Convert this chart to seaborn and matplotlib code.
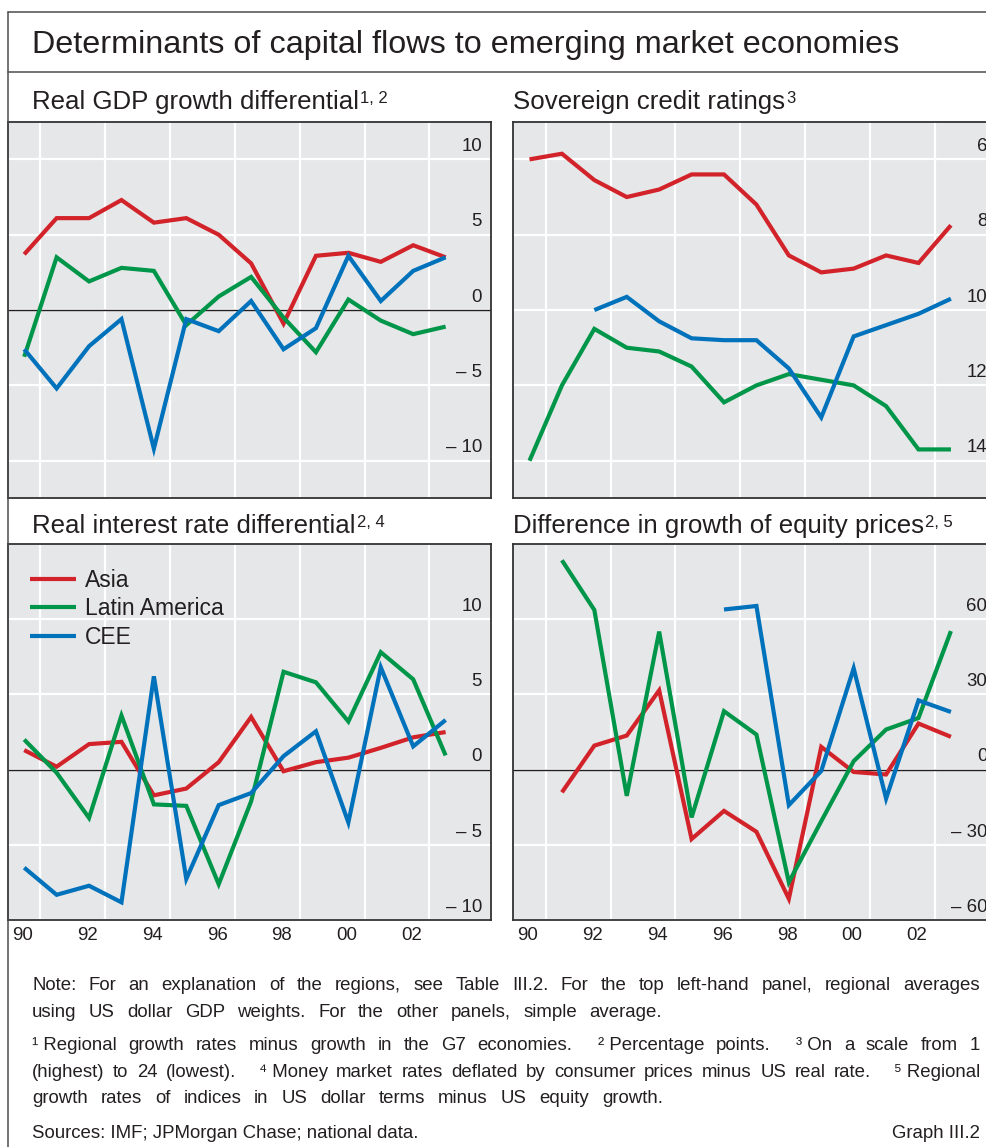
import matplotlib
matplotlib.use('Agg')
import matplotlib.pyplot as plt
import matplotlib.transforms as mtransforms
from matplotlib.lines import Line2D
import pandas as pd
import seaborn as sns

## Data (one value per year, None = no data)
years = list(range(1990, 2004))
regions = ['Asia', 'Latin America', 'CEE']

gdp_asia = [3.7, 6.1, 6.1, 7.3, 5.8, 6.1, 5.0, 3.1, -0.9, 3.6, 3.8, 3.2, 4.3, 3.5]
gdp_latam = [-3.1, 3.5, 1.9, 2.8, 2.6, -1.0, 0.9, 2.2, -0.5, -2.8, 0.7, -0.7, -1.6, -1.1]
gdp_cee = [-2.6, -5.2, -2.4, -0.6, -9.2, -0.6, -1.4, 0.6, -2.6, -1.2, 3.6, 0.6, 2.6, 3.5]

rat_asia = [6.0, 5.85, 6.55, 7.0, 6.8, 6.4, 6.4, 7.2, 8.55, 9.0, 8.9, 8.55, 8.75, 7.75]
rat_latam = [14.0, 12.0, 10.5, 11.0, 11.1, 11.5, 12.45, 12.0, 11.7, 11.85, 12.0, 12.55, 13.7, 13.7]
rat_cee = [None, None, 10.0, 9.65, 10.3, 10.75, 10.8, 10.8, 11.55, 12.85, 10.7, 10.4, 10.1, 9.7]

int_asia = [1.3, 0.2, 1.7, 1.85, -1.7, -1.25, 0.5, 3.5, -0.1, 0.5, 0.8, 1.45, 2.15, 2.5]
int_latam = [2.0, -0.2, -3.2, 3.6, -2.3, -2.4, -7.6, -2.1, 6.5, 5.8, 3.2, 7.8, 6.0, 0.95]
int_cee = [-6.5, -8.3, -7.7, -8.8, 6.2, -7.25, -2.35, -1.55, 0.9, 2.55, -3.5, 6.8, 1.55, 3.3]

eq_asia = [None, -9.0, 9.6, 13.6, 31.6, -27.6, -16.4, -24.7, -51.4, 9.1, -0.9, -1.9, 18.4, 13.1]
eq_latam = [None, 83.4, 63.6, -10.4, 55.0, -19.0, 23.3, 14.0, -44.8, -20.5, 3.4, 16.0, 20.6, 55.2]
eq_cee = [None, None, None, None, None, None, 63.8, 65.2, -14.1, -0.5, 40.4, -11.5, 27.6, 23.0]

year_labels = ['90', '92', '94', '96', '98', '00', '02']

gdp_ticks = [10, 5, 0, -5, -10]
rat_ticks = [6, 8, 10, 12, 14]
int_ticks = [10, 5, 0, -5, -10]
eq_ticks = [60, 30, 0, -30, -60]

colours = {'Asia': '#d2232a', 'Latin America': '#00964a', 'CEE': '#0072bc'}
text_col = '#231f20'

## Style
sns.set_style('darkgrid', {'axes.facecolor': '#e6e7e8', 'grid.color': 'white'})
plt.rcParams['font.family'] = ['Liberation Sans', 'DejaVu Sans']
plt.rcParams['text.color'] = text_col

W, H = 986, 1147
fig = plt.figure(figsize=(W / 100, H / 100), dpi=100)
fig.patch.set_facecolor('white')


def px_axes(x0, y0, x1, y1):
    return fig.add_axes([x0 / W, 1 - y1 / H, (x1 - x0) / W, (y1 - y0) / H])


def long_frame(asia, latam, cee):
    df = pd.DataFrame({'year': years, 'Asia': asia, 'Latin America': latam, 'CEE': cee})
    df['x'] = df['year'] + 0.5  # values sit in the middle of each year
    df = df.melt(id_vars=['year', 'x'], var_name='region', value_name='value')
    return df.dropna()


def fmt(v):
    return ('\u2013 ' + str(abs(v))) if v < 0 else str(v)


def draw_panel(ax, df, ylim, ticks, zero_line, show_years, legend=False):
    sns.lineplot(data=df, x='x', y='value', hue='region', hue_order=regions,
                 palette=colours, lw=3.0, estimator=None, ax=ax, legend=legend,
                 solid_joinstyle='miter', solid_capstyle='butt', zorder=3)
    ax.set(xlabel='', ylabel='')
    ax.set_xlim(1990, 2004.9)
    ax.set_ylim(*ylim)

    # horizontal grid from y ticks, labels drawn inside the panel
    ax.set_yticks(ticks)
    ax.tick_params(axis='y', length=0, labelleft=False, labelright=False)
    ax.grid(axis='y', color='white', lw=1.6)
    ax.grid(axis='x', which='both', visible=False)
    ax.set_axisbelow(True)
    trans = mtransforms.blended_transform_factory(ax.transAxes, ax.transData) + \
        mtransforms.ScaledTranslation(-9 / 100, 8.5 / 100, fig.dpi_scale_trans)
    for t in ticks:
        ax.text(1, t, fmt(t), transform=trans, ha='right', va='baseline',
                fontsize=13.4, color=text_col)

    # vertical grid every second year
    for y in years[1::2]:
        ax.axvline(y, color='white', lw=1.6, zorder=0.8)
    if zero_line:
        ax.axhline(0, color='#231f20', lw=1.0, zorder=1.5)

    # year boundary ticks, year labels centred in the year
    ax.set_xticks(years + [years[-1] + 1])
    ax.tick_params(axis='x', which='major', direction='in', length=15.8, width=1.1,
                   color='#231f20', labelbottom=False)
    ax.set_xticks([years[0] + 2 * i + 0.45 for i in range(len(year_labels))], minor=True)
    ax.set_xticklabels(year_labels, minor=True)
    ax.tick_params(axis='x', which='minor', length=0, pad=5, labelsize=13.4,
                   labelcolor=text_col, labelbottom=show_years)

    for sp in ax.spines.values():
        sp.set_visible(True)
        sp.set_color('#333333')
        sp.set_linewidth(1.3)


ax_gdp = px_axes(8, 121.7, 491, 498.4)
ax_rat = px_axes(513.3, 121.7, 996.3, 498.4)
ax_int = px_axes(8, 543.7, 491, 920.4)
ax_eq = px_axes(513.3, 543.7, 996.3, 920.4)

draw_panel(ax_gdp, long_frame(gdp_asia, gdp_latam, gdp_cee), (-12.5, 12.5), gdp_ticks, True, False)
draw_panel(ax_rat, long_frame(rat_asia, rat_latam, rat_cee), (15, 5), rat_ticks, False, False)
draw_panel(ax_int, long_frame(int_asia, int_latam, int_cee), (-10, 15), int_ticks, True, True, legend=True)
draw_panel(ax_eq, long_frame(eq_asia, eq_latam, eq_cee), (-60, 90), eq_ticks, True, True)

handles, labels = ax_int.get_legend_handles_labels()
leg = ax_int.legend(handles, labels, loc='upper left', bbox_to_anchor=(0.045, 0.934),
                    frameon=False, fontsize=16.5, handlelength=2.0, handletextpad=0.4,
                    labelspacing=0.25, borderaxespad=0, borderpad=0)
for h in leg.get_lines():
    h.set_linewidth(3.0)

## Frame and titles
fig.add_artist(Line2D([7.7 / W, 7.7 / W], [0, 1 - 12.3 / H], color='#4d4d4f', lw=1.1))
fig.add_artist(Line2D([7.7 / W, 1], [1 - 12.3 / H, 1 - 12.3 / H], color='#4d4d4f', lw=1.1))
fig.add_artist(Line2D([7.7 / W, 1], [1 - 72.3 / H, 1 - 72.3 / H], color='#4d4d4f', lw=1.1))

fig.text(31.5 / W, 1 - 53.5 / H, 'Determinants of capital flows to emerging market economies',
         fontsize=23.3, va='baseline', ha='left')

panel_titles = [
    (32, 109.5, 'Real GDP growth differential', '1, 2', ax_gdp),
    (513, 109.5, 'Sovereign credit ratings', '3', ax_rat),
    (32, 533.2, 'Real interest rate differential', '2, 4', ax_int),
    (513, 533.2, 'Difference in growth of equity prices', '2, 5', ax_eq),
]
for x, y, title, sup, ax in panel_titles:
    t = fig.text(x / W, 1 - y / H, title, fontsize=18.6, va='baseline', ha='left')
    ax.annotate(sup, xy=(1, 1), xycoords=t, xytext=(1.0, -0.5), textcoords='offset points',
                ha='left', va='top', fontsize=12, color=text_col, annotation_clip=False)

## Footnotes (justified like the original)
renderer = fig.canvas.get_renderer()
FS = 13.4
X0 = 32
sup_chars = '\u00b9\u00b2\u00b3\u2074\u2075'


def note_line(y, line, x1):
    # place the words one by one so the line spans from X0 to x1
    words = line.split(' ')
    texts = [fig.text(0, 1 - y / H, w, fontsize=FS, va='baseline', ha='left') for w in words]
    widths = [t.get_window_extent(renderer).width for t in texts]
    extra = [14 if w[0] in sup_chars else 0 for w in words[1:]]
    gap = ((x1 - X0) - sum(widths) - sum(extra)) / (len(words) - 1)
    x = X0
    for i, t in enumerate(texts):
        t.set_x(x / W)
        if i < len(extra):
            x += widths[i] + gap + extra[i]


note_line(990, 'Note: For an explanation of the regions, see Table III.2. For the top left-hand panel, regional averages', 980)
note_line(1017, 'using US dollar GDP weights. For the other panels, simple average.', 662)
note_line(1050, '\u00b9\u00a0Regional growth rates minus growth in the G7 economies. \u00b2\u00a0Percentage points. \u00b3\u00a0On a scale from 1', 980)
note_line(1077, '(highest) to 24 (lowest). \u2074\u00a0Money market rates deflated by consumer prices minus US real rate. \u2075\u00a0Regional', 980)
note_line(1103, 'growth rates of indices in US dollar terms minus US equity growth.', 663)
fig.text(X0 / W, 1 - 1138 / H, 'Sources: IMF; JPMorgan Chase; national data.', fontsize=FS, va='baseline', ha='left')
fig.text(980 / W, 1 - 1138 / H, 'Graph III.2', fontsize=FS, va='baseline', ha='right')

fig.savefig('out.png', dpi=100)
